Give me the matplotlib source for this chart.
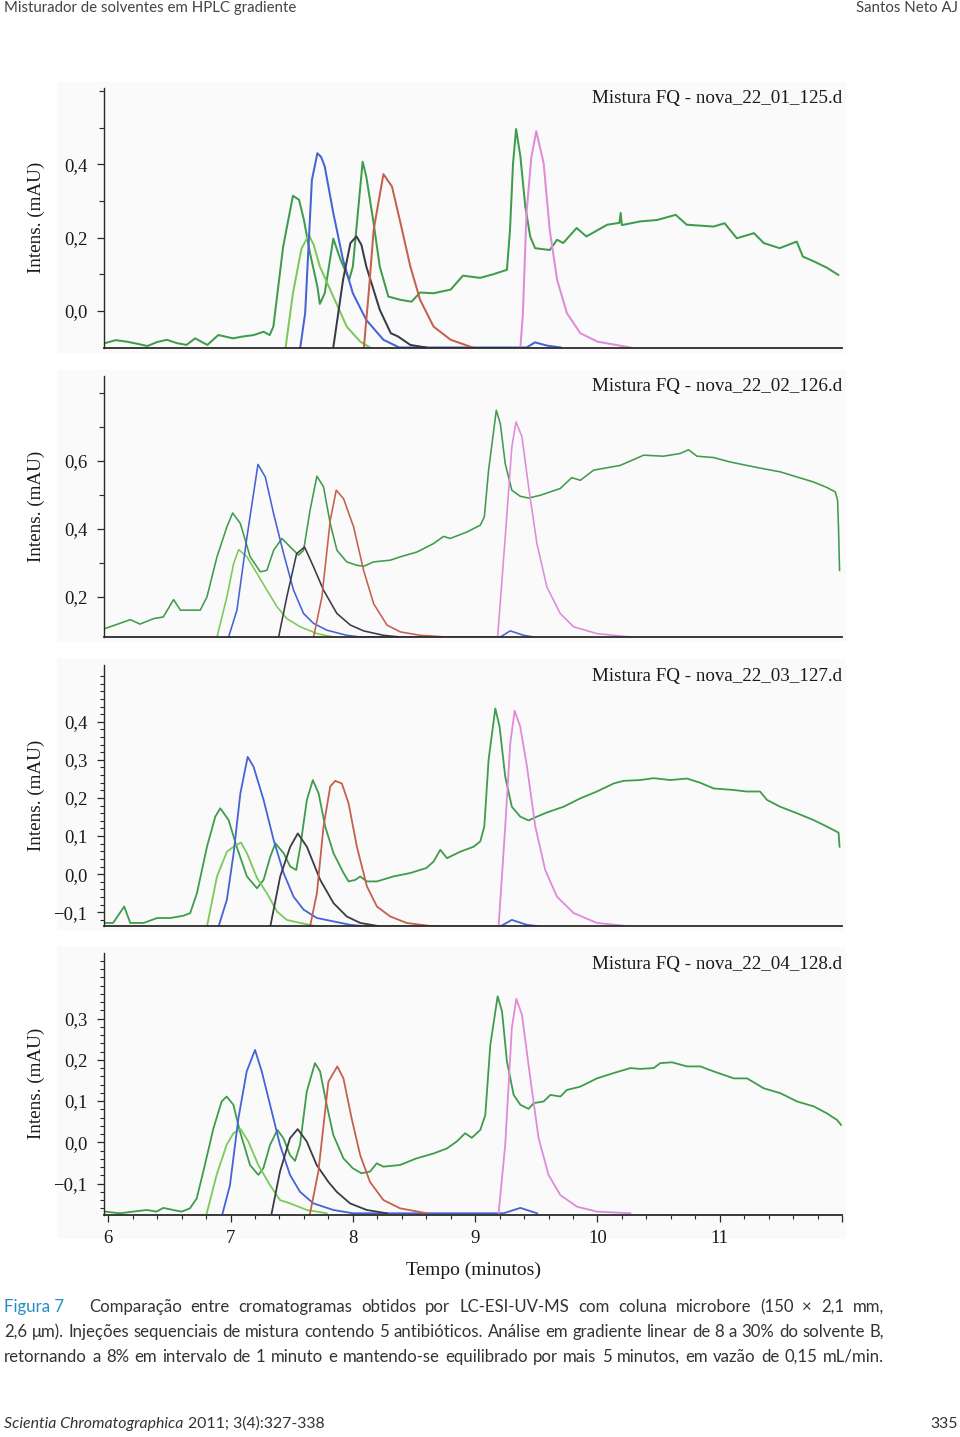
import matplotlib
matplotlib.use("Agg")
import matplotlib.pyplot as plt
from matplotlib.patches import Rectangle
from matplotlib.ticker import FixedLocator, NullLocator, FuncFormatter

W, H = 960, 1437

# ---------------- data (time in min, intensity in mAU) ----------------
P1_TITLE = "Mistura FQ - nova_22_01_125.d"
P2_TITLE = "Mistura FQ - nova_22_02_126.d"
P3_TITLE = "Mistura FQ - nova_22_03_127.d"
P4_TITLE = "Mistura FQ - nova_22_04_128.d"

# Panel 1
P1_GREEN_T = [5.975, 6.06, 6.15, 6.24, 6.32, 6.40, 6.48, 6.56, 6.64, 6.71, 6.81, 6.90, 7.02, 7.10, 7.19, 7.27, 7.32, 7.35,
              7.43, 7.51, 7.56, 7.60, 7.65, 7.71, 7.73, 7.77, 7.84, 7.90, 7.97, 8.00, 8.08, 8.11, 8.17, 8.22, 8.29,
              8.39, 8.48, 8.55, 8.66, 8.80, 8.90, 9.04, 9.15, 9.26, 9.285, 9.31, 9.335, 9.37, 9.41, 9.45, 9.49, 9.61,
              9.67, 9.72, 9.83, 9.91, 10.08, 10.18, 10.19, 10.20, 10.35, 10.49, 10.64, 10.73, 10.95, 11.04,
              11.14, 11.28, 11.36, 11.49, 11.63, 11.68, 11.77, 11.88, 11.97]
P1_GREEN_V = [-0.088, -0.080, -0.084, -0.090, -0.096, -0.085, -0.079, -0.088, -0.093, -0.075, -0.093, -0.066, -0.075,
              -0.070, -0.066, -0.057, -0.066, -0.043, 0.175, 0.314, 0.303, 0.248, 0.157, 0.066, 0.019, 0.048, 0.197,
              0.139, 0.085, 0.121, 0.407, 0.366, 0.239, 0.121, 0.039, 0.030, 0.025, 0.050, 0.048, 0.058, 0.096,
              0.090, 0.100, 0.112, 0.221, 0.403, 0.496, 0.421, 0.285, 0.203, 0.171, 0.166, 0.194, 0.185, 0.226,
              0.203, 0.235, 0.240, 0.267, 0.234, 0.244, 0.248, 0.262, 0.235, 0.230, 0.239, 0.198, 0.212, 0.185,
              0.171, 0.189, 0.148, 0.135, 0.117, 0.098]
P1_LIGHT_T = [7.45, 7.51, 7.58, 7.64, 7.68, 7.73, 7.84, 7.95, 8.06, 8.14]
P1_LIGHT_V = [-0.100, 0.048, 0.170, 0.207, 0.180, 0.121, 0.039, -0.043, -0.084, -0.100]
P1_BLUE_T = [7.57, 7.61, 7.665, 7.71, 7.74, 7.77, 7.84, 7.92, 8.00, 8.11, 8.25, 8.38, 9.42, 9.49, 9.59, 9.70]
P1_BLUE_V = [-0.100, -0.006, 0.357, 0.430, 0.420, 0.394, 0.267, 0.139, 0.048, -0.025, -0.079, -0.100,
             -0.100, -0.086, -0.095, -0.100]
P1_GRAY_T = [7.84, 7.92, 7.98, 8.03, 8.07, 8.11, 8.22, 8.31, 8.37, 8.47, 8.60]
P1_GRAY_V = [-0.100, 0.085, 0.185, 0.203, 0.180, 0.121, 0.003, -0.061, -0.070, -0.093, -0.100]
P1_RED_T = [8.09, 8.13, 8.17, 8.25, 8.32, 8.39, 8.47, 8.55, 8.66, 8.80, 8.98]
P1_RED_V = [-0.100, 0.050, 0.221, 0.373, 0.339, 0.239, 0.121, 0.030, -0.043, -0.079, -0.100]
P1_PINK_T = [9.37, 9.39, 9.42, 9.46, 9.50, 9.56, 9.61, 9.67, 9.75, 9.86, 10.00, 10.27]
P1_PINK_V = [-0.100, -0.010, 0.267, 0.420, 0.490, 0.403, 0.221, 0.085, -0.006, -0.061, -0.084, -0.100]

# Panel 2
P2_GREEN_T = [5.975, 6.18, 6.26, 6.37, 6.45, 6.534, 6.59, 6.67, 6.752, 6.807, 6.889, 6.97, 7.017, 7.08, 7.16, 7.243,
              7.297, 7.352, 7.42, 7.488, 7.556, 7.597, 7.65, 7.706, 7.76, 7.815, 7.87, 7.95, 8.033, 8.088, 8.17,
              8.306, 8.388, 8.524, 8.66, 8.742, 8.796, 8.933, 9.042, 9.075, 9.11, 9.173, 9.206, 9.246, 9.30, 9.369,
              9.437, 9.533, 9.696, 9.79, 9.86, 9.969, 10.187, 10.378, 10.54, 10.677, 10.745, 10.814, 10.95, 11.086,
              11.22, 11.359, 11.495, 11.631, 11.768, 11.876, 11.945, 11.964, 11.972, 11.98]
P2_GREEN_V = [0.107, 0.133, 0.120, 0.136, 0.141, 0.192, 0.161, 0.161, 0.161, 0.200, 0.318, 0.406, 0.447, 0.416, 0.318,
              0.274, 0.278, 0.337, 0.372, 0.347, 0.323, 0.337, 0.455, 0.555, 0.524, 0.416, 0.337, 0.303, 0.293,
              0.290, 0.303, 0.308, 0.318, 0.332, 0.357, 0.378, 0.372, 0.391, 0.411, 0.435, 0.573, 0.749, 0.710,
              0.592, 0.514, 0.496, 0.491, 0.499, 0.519, 0.551, 0.543, 0.573, 0.587, 0.617, 0.614, 0.622, 0.633,
              0.614, 0.610, 0.597, 0.587, 0.577, 0.568, 0.553, 0.538, 0.522, 0.509, 0.484, 0.396, 0.278]
P2_LIGHT_T = [6.889, 6.97, 7.025, 7.066, 7.134, 7.216, 7.297, 7.38, 7.46, 7.57, 7.706, 7.842]
P2_LIGHT_V = [0.082, 0.200, 0.298, 0.339, 0.318, 0.269, 0.220, 0.171, 0.136, 0.112, 0.092, 0.082]
P2_BLUE_T = [6.984, 7.052, 7.134, 7.224, 7.284, 7.352, 7.434, 7.515, 7.597, 7.679, 7.788, 7.95, 8.06,
             9.206, 9.287, 9.396, 9.478]
P2_BLUE_V = [0.082, 0.161, 0.376, 0.590, 0.553, 0.445, 0.327, 0.220, 0.151, 0.122, 0.102, 0.087, 0.082,
             0.082, 0.100, 0.087, 0.082]
P2_GRAY_T = [7.393, 7.46, 7.54, 7.605, 7.679, 7.76, 7.87, 7.98, 8.088, 8.25, 8.388]
P2_GRAY_V = [0.082, 0.200, 0.327, 0.347, 0.288, 0.220, 0.151, 0.117, 0.100, 0.087, 0.082]
P2_RED_T = [7.679, 7.747, 7.815, 7.864, 7.924, 8.006, 8.088, 8.17, 8.279, 8.388, 8.551, 8.769]
P2_RED_V = [0.082, 0.200, 0.425, 0.514, 0.489, 0.406, 0.278, 0.180, 0.117, 0.097, 0.087, 0.082]
P2_PINK_T = [9.184, 9.246, 9.30, 9.334, 9.383, 9.437, 9.505, 9.587, 9.696, 9.805, 9.996, 10.27]
P2_PINK_V = [0.082, 0.376, 0.641, 0.715, 0.671, 0.524, 0.357, 0.229, 0.151, 0.112, 0.092, 0.082]

# Panel 3
P3_GREEN_T = [5.975, 6.04, 6.13, 6.18, 6.29, 6.40, 6.507, 6.616, 6.67, 6.725, 6.807, 6.875, 6.916, 6.984, 7.05,
              7.134, 7.216, 7.27, 7.325, 7.366, 7.434, 7.488, 7.537, 7.57, 7.624, 7.673, 7.72, 7.774, 7.842,
              7.924, 7.965, 8.02, 8.06, 8.115, 8.197, 8.33, 8.469, 8.60, 8.66, 8.715, 8.77, 8.878, 8.987, 9.042,
              9.075, 9.11, 9.165, 9.20, 9.246, 9.30, 9.369, 9.437, 9.505, 9.587, 9.723, 9.86, 9.996, 10.132,
              10.214, 10.35, 10.46, 10.595, 10.732, 10.84, 10.95, 11.113, 11.22, 11.33, 11.386, 11.495, 11.631,
              11.768, 11.876, 11.972, 11.98]
P3_GREEN_V = [-0.128, -0.128, -0.085, -0.128, -0.128, -0.115, -0.115, -0.109, -0.102, -0.050, 0.072, 0.151, 0.173,
              0.142, 0.072, -0.006, -0.037, -0.015, 0.046, 0.081, 0.055, 0.020, 0.011, 0.072, 0.195, 0.247, 0.212,
              0.125, 0.055, 0.003, -0.019, -0.015, -0.006, -0.019, -0.019, -0.006, 0.003, 0.016, 0.033, 0.064,
              0.042, 0.059, 0.072, 0.086, 0.125, 0.300, 0.435, 0.387, 0.256, 0.177, 0.151, 0.141, 0.151, 0.162,
              0.177, 0.199, 0.217, 0.238, 0.245, 0.247, 0.252, 0.247, 0.251, 0.240, 0.225, 0.221, 0.217, 0.217,
              0.195, 0.177, 0.160, 0.142, 0.125, 0.109, 0.072]
P3_LIGHT_T = [6.807, 6.889, 6.97, 7.025, 7.085, 7.134, 7.216, 7.297, 7.38, 7.46, 7.57, 7.706]
P3_LIGHT_V = [-0.137, -0.006, 0.059, 0.072, 0.083, 0.055, -0.010, -0.050, -0.098, -0.120, -0.128, -0.137]
P3_BLUE_T = [6.902, 6.97, 7.025, 7.08, 7.14, 7.188, 7.27, 7.352, 7.434, 7.515, 7.597, 7.706, 7.842, 7.98, 8.115,
             9.206, 9.30, 9.424, 9.533]
P3_BLUE_V = [-0.137, -0.067, 0.055, 0.212, 0.308, 0.282, 0.195, 0.090, 0.003, -0.059, -0.093, -0.115, -0.124,
             -0.133, -0.137, -0.137, -0.120, -0.133, -0.137]
P3_GRAY_T = [7.325, 7.406, 7.488, 7.55, 7.624, 7.733, 7.842, 7.95, 8.06, 8.224]
P3_GRAY_V = [-0.137, -0.006, 0.072, 0.107, 0.072, -0.015, -0.076, -0.111, -0.128, -0.137]
P3_RED_T = [7.65, 7.706, 7.76, 7.815, 7.856, 7.91, 7.965, 8.033, 8.115, 8.197, 8.306, 8.44, 8.66]
P3_RED_V = [-0.137, -0.050, 0.125, 0.230, 0.245, 0.238, 0.186, 0.072, -0.032, -0.085, -0.111, -0.128, -0.137]
P3_PINK_T = [9.192, 9.246, 9.287, 9.323, 9.369, 9.424, 9.492, 9.573, 9.669, 9.805, 9.996, 10.27]
P3_PINK_V = [-0.137, 0.125, 0.343, 0.429, 0.387, 0.282, 0.125, 0.011, -0.059, -0.102, -0.128, -0.137]

# Panel 4
P4_GREEN_T = [5.973, 6.095, 6.205, 6.314, 6.395, 6.45, 6.53, 6.60, 6.668, 6.723, 6.777, 6.86, 6.927, 6.968, 7.023,
              7.077, 7.159, 7.227, 7.268, 7.323, 7.383, 7.432, 7.486, 7.527, 7.568, 7.623, 7.69, 7.732, 7.786,
              7.84, 7.923, 8.00, 8.07, 8.14, 8.195, 8.25, 8.386, 8.52, 8.66, 8.768, 8.85, 8.918, 8.973, 9.042,
              9.083, 9.124, 9.184, 9.22, 9.26, 9.315, 9.37, 9.437, 9.478, 9.56, 9.615, 9.697, 9.75, 9.86, 9.996,
              10.133, 10.27, 10.35, 10.46, 10.514, 10.61, 10.733, 10.842, 10.95, 11.115, 11.224, 11.36, 11.497,
              11.633, 11.77, 11.878, 11.96, 11.993]
P4_GREEN_V = [-0.168, -0.172, -0.168, -0.164, -0.168, -0.159, -0.164, -0.168, -0.160, -0.136, -0.071, 0.034, 0.099,
              0.111, 0.091, 0.026, -0.055, -0.079, -0.063, -0.006, 0.030, 0.010, -0.031, -0.045, -0.006, 0.123,
              0.192, 0.172, 0.091, 0.018, -0.039, -0.063, -0.075, -0.071, -0.051, -0.059, -0.055, -0.039, -0.027,
              -0.015, 0.002, 0.022, 0.011, 0.030, 0.066, 0.236, 0.354, 0.317, 0.196, 0.115, 0.091, 0.081, 0.095,
              0.099, 0.115, 0.111, 0.127, 0.135, 0.155, 0.168, 0.180, 0.178, 0.180, 0.192, 0.194, 0.184, 0.184,
              0.172, 0.155, 0.155, 0.131, 0.119, 0.099, 0.087, 0.070, 0.054, 0.042]
P4_LIGHT_T = [6.805, 6.886, 6.968, 7.023, 7.083, 7.145, 7.227, 7.323, 7.404, 7.486, 7.623, 7.786]
P4_LIGHT_V = [-0.172, -0.079, -0.006, 0.022, 0.032, 0.002, -0.055, -0.104, -0.140, -0.148, -0.164, -0.172]
P4_BLUE_T = [6.935, 6.995, 7.064, 7.132, 7.20, 7.255, 7.323, 7.404, 7.486, 7.568, 7.677, 7.84, 8.00,
             9.233, 9.37, 9.506]
P4_BLUE_V = [-0.172, -0.104, 0.058, 0.172, 0.224, 0.172, 0.091, -0.006, -0.079, -0.120, -0.148, -0.164, -0.172,
             -0.172, -0.159, -0.172]
P4_GRAY_T = [7.336, 7.404, 7.486, 7.549, 7.623, 7.704, 7.80, 7.868, 7.977, 8.113, 8.277]
P4_GRAY_V = [-0.172, -0.071, 0.010, 0.032, 0.002, -0.055, -0.096, -0.120, -0.148, -0.164, -0.172]
P4_RED_T = [7.65, 7.718, 7.80, 7.873, 7.923, 7.99, 8.06, 8.14, 8.25, 8.386, 8.604]
P4_RED_V = [-0.172, -0.071, 0.147, 0.184, 0.155, 0.058, -0.031, -0.096, -0.140, -0.160, -0.172]
P4_PINK_T = [9.192, 9.246, 9.30, 9.337, 9.383, 9.451, 9.519, 9.60, 9.697, 9.833, 9.996, 10.27]
P4_PINK_V = [-0.172, -0.006, 0.277, 0.348, 0.309, 0.155, 0.010, -0.079, -0.128, -0.156, -0.168, -0.172]

# axis ticks per panel
P1_YLABELED = [0.0, 0.2, 0.4]
P1_YMINOR = [0.1, 0.3, 0.5, 0.6]
P2_YLABELED = [0.2, 0.4, 0.6]
P2_YMINOR = [0.3, 0.5, 0.7, 0.8]
P3_YLABELED = [-0.1, 0.0, 0.1, 0.2, 0.3, 0.4]
P3_YMINOR = [round(-0.12 + 0.02 * i, 2) for i in range(33)]
P4_YLABELED = [-0.1, 0.0, 0.1, 0.2, 0.3]
P4_YMINOR = [round(-0.16 + 0.02 * i, 2) for i in range(31)]
X_LABELED = [6, 7, 8, 9, 10, 11]
X_MAJOR = [6, 7, 8, 9, 10, 11, 12]
X_MINOR = [round(6 + 0.2 * i, 1) for i in range(31)]

HEADER_LEFT = "Misturador de solventes em HPLC gradiente"
HEADER_RIGHT = "Santos Neto AJ"
FOOTER_JOURNAL = "Scientia Chromatographica"
FOOTER_REF = "2011; 3(4):327-338"
FOOTER_PAGE = "335"
CAPTION_LABEL = "Figura 7"
CAPTION_LINES = [
    "Comparação entre cromatogramas obtidos por LC-ESI-UV-MS com coluna microbore (150 \u00d7 2,1 mm,",
    "2,6 \u03bcm). Injeções sequenciais de mistura contendo 5 antibióticos. Análise em gradiente linear de 8 a 30% do solvente B,",
    "retornando a 8% em intervalo de 1 minuto e mantendo-se equilibrado por mais 5 minutos, em vazão de 0,15 mL/min.",
]

# ---------------- styling ----------------
C_GREEN = "#3f9c4c"
C_LIGHT = "#7cc95a"
C_BLUE = "#4563d2"
C_GRAY = "#3b3b48"
C_RED = "#c6604e"
C_PINK = "#df8bd8"
SERIF = ["Liberation Serif", "DejaVu Serif"]
SANS = ["Lato", "DejaVu Sans"]

fig = plt.figure(figsize=(W / 100, H / 100), dpi=100)
fig.patch.set_facecolor("white")
renderer = fig.canvas.get_renderer()


def frac_rect(x0, y0, x1, y1):
    return [x0 / W, 1 - y1 / H, (x1 - x0) / W, (y1 - y0) / H]


def fmt(v, pos=None):
    s = f"{v:.1f}".replace(".", ",")
    if s.startswith("-"):
        s = "\u2212" + s[1:]
    return s


panels = [
    dict(box=(88, 347.5), ylim=(-0.100, 0.608), title=P1_TITLE, lab=P1_YLABELED, minor=P1_YMINOR, bg=(82, 353), lw=1.45,
         traces=[(P1_GREEN_T, P1_GREEN_V, C_GREEN), (P1_LIGHT_T, P1_LIGHT_V, C_LIGHT), (P1_BLUE_T, P1_BLUE_V, C_BLUE),
                 (P1_GRAY_T, P1_GRAY_V, C_GRAY), (P1_RED_T, P1_RED_V, C_RED), (P1_PINK_T, P1_PINK_V, C_PINK)]),
    dict(box=(376, 637), ylim=(0.082, 0.850), title=P2_TITLE, lab=P2_YLABELED, minor=P2_YMINOR, bg=(370, 642), lw=1.15,
         traces=[(P2_GREEN_T, P2_GREEN_V, C_GREEN), (P2_LIGHT_T, P2_LIGHT_V, C_LIGHT), (P2_BLUE_T, P2_BLUE_V, C_BLUE),
                 (P2_GRAY_T, P2_GRAY_V, C_GRAY), (P2_RED_T, P2_RED_V, C_RED), (P2_PINK_T, P2_PINK_V, C_PINK)]),
    dict(box=(665, 926), ylim=(-0.136, 0.549), title=P3_TITLE, lab=P3_YLABELED, minor=P3_YMINOR, bg=(659, 931), lw=1.3,
         traces=[(P3_GREEN_T, P3_GREEN_V, C_GREEN), (P3_LIGHT_T, P3_LIGHT_V, C_LIGHT), (P3_BLUE_T, P3_BLUE_V, C_BLUE),
                 (P3_GRAY_T, P3_GRAY_V, C_GRAY), (P3_RED_T, P3_RED_V, C_RED), (P3_PINK_T, P3_PINK_V, C_PINK)]),
    dict(box=(953, 1214.5), ylim=(-0.175, 0.459), title=P4_TITLE, lab=P4_YLABELED, minor=P4_YMINOR, bg=(947, 1239), lw=1.3,
         traces=[(P4_GREEN_T, P4_GREEN_V, C_GREEN), (P4_LIGHT_T, P4_LIGHT_V, C_LIGHT), (P4_BLUE_T, P4_BLUE_V, C_BLUE),
                 (P4_GRAY_T, P4_GRAY_V, C_GRAY), (P4_RED_T, P4_RED_V, C_RED), (P4_PINK_T, P4_PINK_V, C_PINK)]),
]

for i, p in enumerate(panels):
    y0, y1 = p["box"]
    b0, b1 = p["bg"]
    fig.add_artist(Rectangle((57 / W, 1 - b1 / H), (846 - 57) / W, (b1 - b0) / H,
                             transform=fig.transFigure, facecolor="#fafafa", edgecolor="none", zorder=-5))
    ax = fig.add_axes(frac_rect(104, y0, 842, y1))
    ax.set_facecolor("none")
    for t, v, c in p["traces"]:
        ax.plot(t, v, color=c, lw=p["lw"], solid_joinstyle="round")
    ax.set_xlim(5.965, 12.0)
    ax.set_ylim(*p["ylim"])
    for s in ("top", "right"):
        ax.spines[s].set_visible(False)
    ax.spines["left"].set_color("#2a2a2a")
    ax.spines["left"].set_linewidth(1.0)
    ax.spines["bottom"].set_color("#2a2a2a")
    ax.spines["bottom"].set_linewidth(1.3)
    ax.yaxis.set_major_locator(FixedLocator(p["lab"]))
    ax.yaxis.set_minor_locator(FixedLocator([m for m in p["minor"] if m not in p["lab"]]))
    ax.yaxis.set_major_formatter(FuncFormatter(fmt))
    ax.tick_params(axis="y", which="major", length=5, width=0.9, color="#2a2a2a", pad=7,
                   labelsize=13.5, labelcolor="#1a1a1a")
    ax.tick_params(axis="y", which="minor", length=3.5 if i < 2 else 3, width=0.8, color="#2a2a2a")
    for lab in ax.get_yticklabels():
        lab.set_family(SERIF)
    if i < 3:
        ax.xaxis.set_major_locator(NullLocator())
        ax.xaxis.set_minor_locator(NullLocator())
    else:
        ax.xaxis.set_major_locator(FixedLocator(X_MAJOR))
        ax.xaxis.set_minor_locator(FixedLocator([m for m in X_MINOR if m not in X_MAJOR]))
        ax.xaxis.set_major_formatter(FuncFormatter(lambda v, pos: str(int(v)) if int(v) in X_LABELED else ""))
        ax.tick_params(axis="x", which="major", length=5, width=0.9, color="#2a2a2a", pad=6,
                       labelsize=13.5, labelcolor="#1a1a1a")
        ax.tick_params(axis="x", which="minor", length=3, width=0.8, color="#2a2a2a")
        for lab in ax.get_xticklabels():
            lab.set_family(SERIF)
    fig.text(842 / W, 1 - (y0 + 11) / H, p["title"], ha="right", va="center", family=SERIF,
             fontsize=13.7, color="#1a1a1a")
    fig.text(36 / W, 1 - ((y0 + y1) / 2) / H, "Intens. (mAU)", rotation=90, ha="center", va="center",
             family=SERIF, fontsize=13.8, color="#1a1a1a")

fig.text(474 / W, 1 - 1270 / H, "Tempo (minutos)", ha="center", va="center", family=SERIF,
         fontsize=14, color="#1a1a1a")

# header / footer
fig.text(4 / W, 1 - 12 / H, HEADER_LEFT, ha="left", va="baseline", family=SANS, fontsize=10.8, color="#444444")
fig.text(958 / W, 1 - 12 / H, HEADER_RIGHT, ha="right", va="baseline", family=SANS, fontsize=10.8,
         color="#444444")
t1 = fig.text(4 / W, 1 - 1428 / H, FOOTER_JOURNAL, ha="left", va="baseline", family=SANS,
              style="italic", fontsize=11.4, color="#333333")
fig.text(958 / W, 1 - 1428 / H, FOOTER_PAGE, ha="right", va="baseline", family=SANS, fontsize=11.4, color="#333333")
w1 = t1.get_window_extent(renderer).width
fig.text((4 + w1 + 5) / W, 1 - 1428 / H, FOOTER_REF, ha="left", va="baseline", family=SANS,
         fontsize=11.4, color="#333333")

# caption: choose size so the longest line fits its natural width, then justify words
probe = fig.text(0, 0, CAPTION_LINES[1], family=SANS, fontsize=11)
natural = probe.get_window_extent(renderer).width
probe.remove()
cap_size = 11 * 872 / natural

fig.text(4 / W, 1 - 1312 / H, CAPTION_LABEL, ha="left", va="baseline", family=SANS, fontsize=cap_size,
         color="#1f8fc4")
for (x0, yb), line in zip([(89, 1312), (4, 1337), (4, 1362)], CAPTION_LINES):
    words = line.split(" ")
    texts = [fig.text(0, 1 - yb / H, w, ha="left", va="baseline", family=SANS, fontsize=cap_size,
                      color="#333333") for w in words]
    widths = [t.get_window_extent(renderer).width for t in texts]
    gap = (884 - x0 - sum(widths)) / (len(words) - 1)
    x = x0
    for t, wd in zip(texts, widths):
        t.set_x(x / W)
        x += wd + gap

fig.savefig("out.png", dpi=100, facecolor="white")
